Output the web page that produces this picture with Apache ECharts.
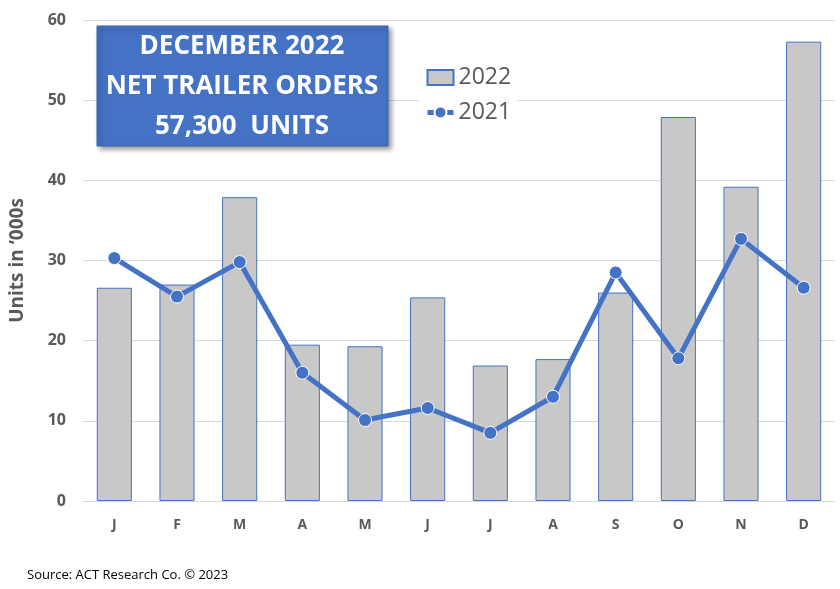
<!DOCTYPE html>
<html><head><meta charset="utf-8">
<script src="https://cdn.jsdelivr.net/npm/echarts@6/dist/echarts.min.js"></script>
<style>html,body{margin:0;padding:0;background:#fff}#c{width:840px;height:589px}</style>
</head><body><div id="c"></div>
<script>
var months = ['J','F','M','A','M','J','J','A','S','O','N','D'];
var orders2022 = [26.6, 27.0, 37.9, 19.5, 19.3, 25.4, 16.9, 17.7, 26.0, 47.9, 39.2, 57.3];
var orders2021 = [30.3, 25.5, 29.8, 16.0, 10.1, 11.6, 8.5, 13.0, 28.5, 17.8, 32.7, 26.6];
var titleLines = ['DECEMBER 2022', 'NET TRAILER ORDERS', '57,300  UNITS'];

var chart = echarts.init(document.getElementById('c'));
chart.setOption({
  animation: false,
  grid: {left: 83, right: 5, top: 20, bottom: 88},
  legend: {
    orient: 'vertical', left: 419, top: 62, itemGap: 12,
    itemWidth: 26, itemHeight: 15, backgroundColor: '#fff', padding: [4, 6],
    textStyle: {fontFamily: 'Open Sans', fontSize: 23, color: '#595959'},
    data: [{name: '2022', icon: 'rect'}, {name: '2021', lineStyle: {width: 5}}]
  },
  xAxis: {
    type: 'category', data: months,
    axisLine: {lineStyle: {color: '#d9d9d9'}},
    axisTick: {show: false},
    axisLabel: {fontFamily: 'Open Sans', fontWeight: 'bold', fontSize: 14, color: '#595959', margin: 17}
  },
  yAxis: {
    type: 'value', min: 0, max: 60, interval: 10,
    name: 'Units in \u2018000s', nameLocation: 'middle', nameGap: 56,
    nameTextStyle: {fontFamily: 'Open Sans', fontWeight: 'bold', fontSize: 19, color: '#595959'},
    splitLine: {lineStyle: {color: '#d9d9d9'}},
    axisLine: {show: false}, axisTick: {show: false},
    axisLabel: {fontFamily: 'Open Sans', fontWeight: 'bold', fontSize: 16, color: '#595959', margin: 17}
  },
  series: [
    {name: '2022', type: 'bar', data: orders2022, barCategoryGap: '44%',
     itemStyle: {color: '#c8c8c8', borderColor: '#4472c4', borderWidth: 1}},
    {name: '2021', type: 'line', data: orders2021, symbol: 'circle', symbolSize: 13,
     lineStyle: {color: '#4472c4', width: 5},
     itemStyle: {color: '#4472c4', borderColor: '#ffffff', borderWidth: 1}}
  ],
  graphic: [
    {type: 'rect', shape: {x: 97, y: 26, width: 291, height: 120},
     style: {fill: '#4472c4', stroke: '#3a62a8', lineWidth: 1, shadowBlur: 5, shadowOffsetX: 3, shadowOffsetY: 3, shadowColor: 'rgba(0,0,0,0.4)'}, z: 100},
    {type: 'text', z: 101, style: {x: 242, y: 47, text: titleLines[0], textAlign: 'center', textVerticalAlign: 'middle', fill: '#fff', font: 'bold 26px "Open Sans"'}},
    {type: 'text', z: 101, style: {x: 242, y: 87, text: titleLines[1], textAlign: 'center', textVerticalAlign: 'middle', fill: '#fff', font: 'bold 26px "Open Sans"'}},
    {type: 'text', z: 101, style: {x: 242, y: 127, text: titleLines[2], textAlign: 'center', textVerticalAlign: 'middle', fill: '#fff', font: 'bold 26px "Open Sans"'}},
    {type: 'text', z: 101, style: {x: 27, y: 575, text: 'Source: ACT Research Co. \u00a9 2023', textVerticalAlign: 'middle', fill: '#000', font: '13px "Open Sans"'}}
  ]
});
</script></body></html>
